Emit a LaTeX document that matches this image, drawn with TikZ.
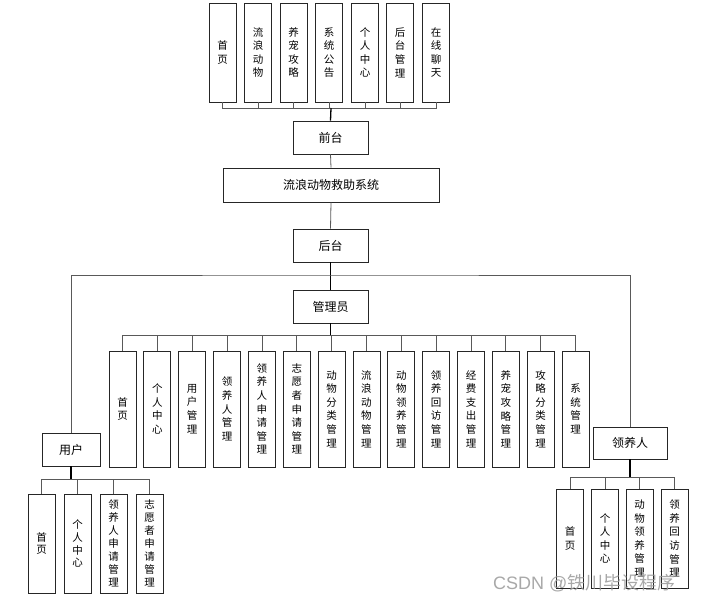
\documentclass[tikz,border=0pt]{standalone}
\usepackage{fontspec}
\setmainfont{Noto Sans CJK SC}
\newfontfamily\wmfont{Liberation Sans}
\newfontfamily\wmcjk{Noto Sans CJK SC}
\begin{document}
\begin{tikzpicture}[x=1pt,y=-1pt,
  box/.style={draw=black!85,line width=0.8pt,fill=white,inner sep=0pt,font=\fontsize{12}{14}\selectfont},
  vbox/.style={draw=black!85,line width=0.8pt,fill=white,inner sep=0pt,minimum width=27pt,
    align=center,font=\fontsize{10.5}{13.6}\selectfont},
  conn/.style={draw=black!65,line width=0.8pt},
  tconn/.style={draw=black,line width=1.3pt}]
\useasboundingbox (0,0) rectangle (701,604);
% top boxes
\foreach \n/\x/\t in {t1/222.5/首\\页, t2/258/流\\浪\\动\\物, t3/293.5/养\\宠\\攻\\略, t4/329/系\\统\\公\\告, t5/365/个\\人\\中\\心, t6/400/后\\台\\管\\理, t7/436/在\\线\\聊\\天}
  \node[vbox,minimum height=99pt] (\n) at (\x,52.5) {\t};
\node[box,minimum width=75pt,minimum height=33pt] (qt) at (330.5,137.5) {前台};
\node[box,minimum width=216pt,minimum height=34pt] (sys) at (331,185) {流浪动物救助系统};
\node[box,minimum width=75pt,minimum height=33pt] (ht) at (330.5,245.5) {后台};
\node[box,minimum width=75pt,minimum height=33pt] (gly) at (330.5,306.5) {管理员};
\coordinate (tb) at (331,108);
\foreach \n in {t1,t2,t3,t4,t5,t6,t7} \draw[conn] (\n.south) |- (tb);
\draw[tconn] (tb) -- (qt.north);
\draw[conn] (qt.south) -- (sys.north);
\draw[conn] (sys.south) -- (ht.north);
\draw[tconn] (ht.south) -- (gly.north);
% admin boxes
\foreach \i/\t in {0/首\\页, 1/个\\人\\中\\心, 2/用\\户\\管\\理, 3/领\\养\\人\\管\\理, 4/领\\养\\人\\申\\请\\管\\理, 5/志\\愿\\者\\申\\请\\管\\理, 6/动\\物\\分\\类\\管\\理, 7/流\\浪\\动\\物\\管\\理, 8/动\\物\\领\\养\\管\\理, 9/领\\养\\回\\访\\管\\理, 10/经\\费\\支\\出\\管\\理, 11/养\\宠\\攻\\略\\管\\理, 12/攻\\略\\分\\类\\管\\理, 13/系\\统\\管\\理}
  \node[vbox,minimum height=116pt] (a\i) at ({122.5+34.85*\i},409) {\t};
\coordinate (ab) at (330.5,335);
\foreach \i in {0,...,13} \draw[conn] (a\i.north) |- (ab);
\draw[tconn] (gly.south) -- (ab);
% user and adopter
\node[box,minimum width=58pt,minimum height=33pt] (yh) at (71,449.5) {用户};
\node[box,minimum width=74pt,minimum height=32pt] (lyr) at (630,443) {领养人};
\coordinate (hb) at (330.5,275);
\draw[conn] (yh.north) |- (hb) -| (lyr.north);
% user children
\foreach \n/\x/\t in {u1/41.5/首\\页, u2/77.5/个\\人\\中\\心, u3/113.5/领\\养\\人\\申\\请\\管\\理, u4/149.5/志\\愿\\者\\申\\请\\管\\理}
  \node[vbox,minimum height=99pt,font=\fontsize{10.5}{12.9}\selectfont] (\n) at (\x,543.5) {\t};
\coordinate (ub) at (71,479);
\foreach \n in {u1,u2,u3,u4} \draw[conn] (\n.north) |- (ub);
\draw[tconn] (yh.south) -- (ub);
% adopter children
\foreach \n/\x/\t in {l1/570/首\\页, l2/605/个\\人\\中\\心, l3/639.5/动\\物\\领\\养\\管\\理, l4/674.5/领\\养\\回\\访\\管\\理}
  \node[vbox,minimum height=99pt] (\n) at (\x,538.5) {\t};
\coordinate (lb) at (630,477);
\foreach \n in {l1,l2,l3,l4} \draw[conn] (\n.north) |- (lb);
\draw[tconn] (lyr.south) -- (lb);
% watermark
\node[text=black!40,opacity=0.85,font=\fontsize{18}{20}\selectfont,anchor=west,inner sep=0pt] (wm) at (493,583) {{\wmfont CSDN @}{\wmcjk 铁川毕设程序}};
\end{tikzpicture}
\end{document}
